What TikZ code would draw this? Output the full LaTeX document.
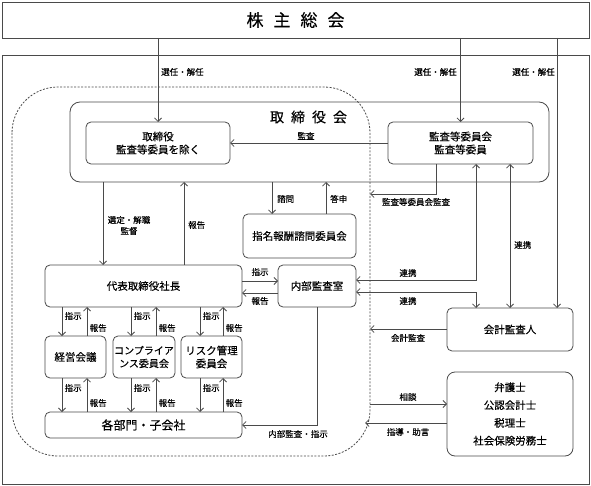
\documentclass[tikz,border=0pt]{standalone}
\usepackage{fontspec}
\setmainfont[FakeBold=0.35]{Noto Sans CJK JP}
\usetikzlibrary{arrows.meta}
\definecolor{lc}{HTML}{4A4A4A}
\newcommand{\fsz}[2]{\fontsize{#1}{#2}\selectfont}
\tikzset{
  box/.style={draw=lc, line width=0.8pt, rounded corners=5pt, align=center, inner sep=0pt, outer sep=0pt, font=\fsz{10.5}{13}},
  conn/.style={draw=lc, line width=0.8pt},
  arr/.style={conn, -{Straight Barb[length=3.5pt,width=7pt]}},
  darr/.style={conn, {Straight Barb[length=3.5pt,width=7pt]}-{Straight Barb[length=3.5pt,width=7pt]}},
  lbl/.style={font=\fsz{8.5}{11}, inner sep=0pt, text=black},
}
\begin{document}
\begin{tikzpicture}[x=1pt,y=-1pt]
\useasboundingbox (0,0) rectangle (591,486);
% frames
\node[box, rounded corners=0pt, minimum width=587pt, minimum height=36pt, font=\fsz{17}{20}] (sh) at (295.5,20) {株\hspace{10pt}主\hspace{10pt}総\hspace{10pt}会};
\node[box, rounded corners=0pt, minimum width=587pt, minimum height=429pt] (frame) at (295.5,269.5) {};
\draw[conn, dash pattern=on 2pt off 1.5pt, rounded corners=46pt] (12,87) rectangle (370,456);
% board
\node[box, rounded corners=10pt, minimum width=479pt, minimum height=80pt] (bod) at (309.5,142) {};
\node[inner sep=0pt, font=\fsz{14}{16}] (bodt) at (308.5,117) {取\hspace{7pt}締\hspace{7pt}役\hspace{7pt}会};
\node[box, minimum width=144pt, minimum height=42pt] (tk) at (158,143) {取締役\\監査等委員を除く};
\node[box, minimum width=145pt, minimum height=42pt] (ac) at (460.5,143) {監査等委員会\\監査等委員};
\node[box, minimum width=113pt, minimum height=44pt] (nc) at (299.5,236) {指名報酬諮問委員会};
\node[box, minimum width=197pt, minimum height=42pt] (rep) at (143.5,286) {代表取締役社長};
\node[box, minimum width=78pt, minimum height=42pt] (ia) at (317,286) {内部監査室};
\node[box, minimum width=61pt, minimum height=42pt] (kk) at (75.5,357) {経営会議};
\node[box, minimum width=62pt, minimum height=42pt, font=\fsz{10}{13}] (cp) at (144,357) {コンプライア\\ンス委員会};
\node[box, minimum width=61pt, minimum height=42pt] (rk) at (211.5,357) {リスク管理\\委員会};
\node[box, minimum width=197pt, minimum height=26pt, font=\fsz{12}{14}] (dept) at (143.5,425) {各部門・子会社};
\node[box, minimum width=126pt, minimum height=43pt] (ca) at (510,329.5) {会計監査人};
\node[box, rounded corners=8pt, minimum width=126pt, minimum height=84pt, font=\fsz{10.5}{17.8}] (ad) at (510,414) {弁護士\\公認会計士\\税理士\\社会保険労務士};
% boundary points
\coordinate (b1) at (370,194);
\coordinate (b2) at (370,329);
\coordinate (b3) at (370,404);
\coordinate (b4) at (365,423);
% shareholders
\draw[arr] (sh.south -| tk.north) -- (tk.north);
\node[lbl, anchor=west] (l1) at (161,72) {選任・解任};
\draw[arr] (sh.south -| ac.north) -- (ac.north);
\node[lbl, anchor=east] (l2) at (457,72) {選任・解任};
\draw[arr] (sh.south -| 557,0) -- (ca.north -| 557,0);
\node[lbl, anchor=east] (l3) at (555,72) {選任・解任};
% audit
\draw[arr] (ac.west) -- (tk.east);
\node[lbl] (l4) at (306,136) {監査};
\draw[arr] (ac.south -| 436,0) |- (b1);
\node[lbl] (l5) at (416,202) {監査等委員会監査};
% board to rep
\draw[arr] (bod.south -| 103,0) -- (rep.north -| 103,0);
\node[lbl, align=center, font=\fsz{8.5}{11}] (l6) at (129,225.5) {選定・解職\\監督};
\draw[arr] (rep.north -| 184,0) -- (bod.south -| 184,0);
\node[lbl, anchor=west] (l7) at (188,225) {報告};
\draw[arr] (bod.south -| 272,0) -- (nc.north -| 272,0);
\node[lbl, anchor=west] (l8) at (277,199) {諮問};
\draw[arr] (nc.north -| 326,0) -- (bod.south -| 326,0);
\node[lbl, anchor=west] (l9) at (330,199) {答申};
% rep and internal audit
\draw[arr] (rep.east |- 0,281) -- (ia.west |- 0,281);
\node[lbl] (l10) at (260,272) {指示};
\draw[arr] (ia.west |- 0,293) -- (rep.east |- 0,293);
\node[lbl] (l11) at (260,301) {報告};
\draw[arr] (ia.south) |- (dept.east);
\node[lbl] (l12) at (298,434) {内部監査・指示};
% collaboration
\draw[darr] (ia.east |- 0,280) -| (ac.south -| 476,0);
\node[lbl] (l13) at (408,273) {連携};
\draw[darr] (ia.east |- 0,292) -| (ca.north -| 476,0);
\node[lbl] (l14) at (408,301) {連携};
\draw[darr] (ac.south -| 510,0) -- (ca.north -| 510,0);
\node[lbl, anchor=west] (l15) at (514,245) {連携};
\draw[arr] (ca.west |- b2) -- (b2);
\node[lbl] (l16) at (408,338) {会計監査};
\draw[arr] (b3) -- (ad.west |- b3);
\node[lbl] (l17) at (408,397) {相談};
\draw[arr] (ad.west |- b4) -- (b4);
\node[lbl] (l18) at (408,432) {指導・助言};
% sub committees
\foreach \b/\d/\u in {kk/62/87, cp/131/156, rk/200/223}{
  \draw[arr] (rep.south -| \d,0) -- (\b.north -| \d,0);
  \draw[arr] (\b.north -| \u,0) -- (rep.south -| \u,0);
  \draw[arr] (\b.south -| \d,0) -- (dept.north -| \d,0);
  \draw[arr] (dept.north -| \u,0) -- (\b.south -| \u,0);
  \node[lbl, anchor=west] (a\b) at (\d+2.5,316) {指示};
  \node[lbl, anchor=west] (b\b) at (\u+2.5,328) {報告};
  \node[lbl, anchor=west] (c\b) at (\d+2.5,388) {指示};
  \node[lbl, anchor=west] (d\b) at (\u+2.5,403) {報告};
}
\end{tikzpicture}
\end{document}
